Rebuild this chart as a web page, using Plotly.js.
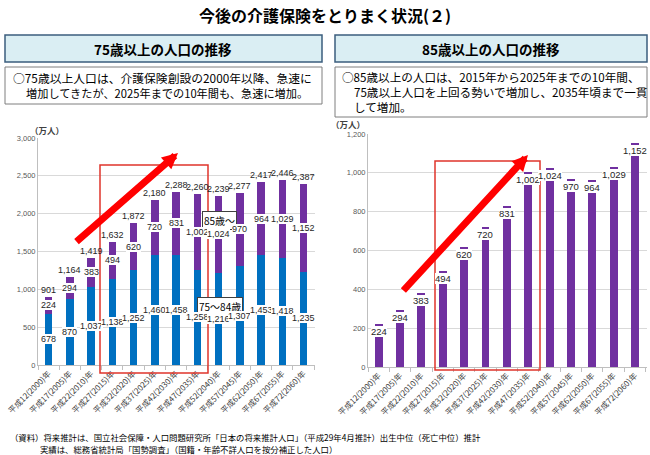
<!DOCTYPE html>
<html><head><meta charset="utf-8">
<script src="https://cdn.plot.ly/plotly-3.0.1.min.js"></script>
<style>html,body{margin:0;padding:0;background:#fff}#chart{width:650px;height:455px}</style>
</head><body><div id="chart"></div>
<script>
// ---- data ----
const years = ['平成12(2000)年','平成17(2005)年','平成22(2010)年','平成27(2015)年','平成32(2020)年','平成37(2025)年','平成42(2030)年','平成47(2035)年','平成52(2040)年','平成57(2045)年','平成62(2050)年','平成67(2055)年','平成72(2060)年'];
const age75to84 = [678, 870, 1037, 1138, 1252, 1460, 1458, 1258, 1216, 1307, 1453, 1418, 1235];
const age85plus = [224, 294, 383, 494, 620, 720, 831, 1002, 1024, 970, 964, 1029, 1152];
const total75plus = [901, 1164, 1419, 1632, 1872, 2180, 2288, 2260, 2239, 2277, 2417, 2446, 2387];
const yTicksLeft = [0, 500, 1000, 1500, 2000, 2500, 3000];
const yTicksRight = [0, 200, 400, 600, 800, 1000, 1200];

// ---- helpers ----
const W = 650, H = 455;
const px = x => x / W, py = y => 1 - y / H;
const JP = '"Noto Sans CJK JP", "Noto Sans", sans-serif';
const NUM = '"Liberation Sans", "DejaVu Sans", sans-serif';
const BLUE = '#0070C0', PURPLE = '#7030A0';
const fmt = v => v.toLocaleString('en-US');

const traces = [
  {type:'bar', x:years, y:age75to84, xaxis:'x', yaxis:'y', marker:{color:BLUE}, width:0.35, hoverinfo:'skip'},
  {type:'bar', x:years, y:age85plus, xaxis:'x', yaxis:'y', marker:{color:PURPLE}, width:0.35, hoverinfo:'skip'},
  {type:'bar', x:years, y:age85plus, xaxis:'x2', yaxis:'y2', marker:{color:PURPLE}, width:0.37, hoverinfo:'skip'}
];

const ann = [];
const txt = (text, x, y, size, opts) => ann.push(Object.assign({xref:'paper', yref:'paper', x:px(x), y:py(y), text:text, showarrow:false, xanchor:'center', yanchor:'middle', font:{family:JP, size:size, color:'#000'}}, opts||{}));

// title + headers + descriptions
txt('<b>今後の介護保険をとりまく状況(２)</b>', 325, 15, 16);
txt('<b>75歳以上の人口の推移</b>', 163, 49, 13.5);
txt('<b>85歳以上の人口の推移</b>', 491, 49, 13.5);
txt('○75歳以上人口は、介護保険創設の2000年以降、急速に', 11, 77, 11.8, {xanchor:'left'});
txt('増加してきたが、2025年までの10年間も、急速に増加。', 24, 93, 11.2, {xanchor:'left'});
txt('○85歳以上の人口は、2015年から2025年までの10年間、', 340, 77, 11.6, {xanchor:'left'});
txt('75歳以上人口を上回る勢いで増加し、2035年頃まで一貫', 352, 92, 11.6, {xanchor:'left'});
txt('して増加。', 352, 107, 11.6, {xanchor:'left'});
txt('<b>（万人）</b>', 47, 130, 8.5, {font:{family:JP, size:8.5, color:'#404040'}});
txt('<b>（万人）</b>', 348, 124, 8.5, {font:{family:JP, size:8.5, color:'#404040'}});
txt('（資料）将来推計は、国立社会保障・人口問題研究所「日本の将来推計人口」（平成29年4月推計）出生中位（死亡中位）推計', 8, 437, 8.4, {xanchor:'left'});
txt('実績は、総務省統計局「国勢調査」（国籍・年齢不詳人口を按分補正した人口）', 38, 449, 8.4, {xanchor:'left'});

// series name boxes
txt('85歳～', 219, 220, 10, {bgcolor:'#fff', bordercolor:'#404040', borderwidth:1, borderpad:1});
txt('75～84歳', 219.5, 306.5, 10, {bgcolor:'#fff', bordercolor:'#404040', borderwidth:1, borderpad:1});

// arrows
ann.push({xref:'paper', yref:'paper', x:px(178), y:py(153), ax:-103, ay:90, text:'', showarrow:true, arrowhead:2, arrowsize:0.45, arrowwidth:7, arrowcolor:'#FF0000', standoff:0});
ann.push({xref:'paper', yref:'paper', x:px(528), y:py(155), ax:-126, ay:137, text:'', showarrow:true, arrowhead:2, arrowsize:0.45, arrowwidth:7, arrowcolor:'#FF0000', standoff:0});

// data labels
const lab = (xref, yref, x, y, v, opts) => ann.push(Object.assign({xref:xref, yref:yref, x:x, y:y, text:fmt(v), showarrow:false, bgcolor:'#fff', borderpad:0, borderwidth:0, font:{family:NUM, size:9, color:'#262626'}}, opts||{}));
years.forEach((yr, i) => {
  lab('x', 'y', yr, age75to84[i] / 2, age75to84[i]);
  lab('x', 'y', yr, age75to84[i] + age85plus[i] / 2, age85plus[i]);
  lab('x', 'y', yr, total75plus[i], total75plus[i], {yanchor:'bottom', yshift:2, bgcolor:'rgba(0,0,0,0)'});
  lab('x2', 'y2', yr, age85plus[i], age85plus[i], {yanchor:'top', yshift:-2, font:{family:NUM, size:9.5, color:'#262626'}});
});

const rect = (x0, y0, x1, y1, fill, line, lw) => ({type:'rect', xref:'paper', yref:'paper', x0:px(x0), x1:px(x1), y0:py(y0), y1:py(y1), fillcolor:fill, line:{color:line, width:lw}, layer:'above'});
const shapes = [
  rect(5, 35, 322, 62, '#DAEEF3', '#3B5E7E', 1.5),
  rect(335, 35, 647, 62, '#DAEEF3', '#3B5E7E', 1.5),
  rect(5, 67, 322, 104, '#FFFFFF', '#7F7F7F', 1),
  rect(335, 67, 647, 117, '#FFFFFF', '#7F7F7F', 1),
  rect(100, 165, 208, 373, 'rgba(0,0,0,0)', '#E0342B', 1.5),
  rect(435, 161, 540, 370, 'rgba(0,0,0,0)', '#E0342B', 1.5)
];

const xax = (d, anchor) => ({domain:d, anchor:anchor, type:'category', tickangle:-45, tickfont:{family:JP, size:8, color:'#404040'}, showline:true, linecolor:'#BFBFBF', ticks:'outside', ticklen:4, tickcolor:'#BFBFBF', tickson:'boundaries', showgrid:false, fixedrange:true});
const yax = (d, anchor, range, tv) => ({domain:d, anchor:anchor, range:range, tickvals:tv, tickformat:',d', tickfont:{family:NUM, size:7.5, color:'#595959'}, showgrid:true, gridcolor:'#D9D9D9', gridwidth:1, showline:true, linecolor:'#BFBFBF', zeroline:false, fixedrange:true});

const layout = {
  width:W, height:H, margin:{l:0, r:0, t:0, b:0}, showlegend:false,
  paper_bgcolor:'#fff', plot_bgcolor:'#fff', barmode:'stack',
  xaxis: xax([px(38), px(315)], 'y'),
  yaxis: yax([py(365), py(138)], 'x', [0, 3000], yTicksLeft),
  xaxis2: xax([px(368), px(647)], 'y2'),
  yaxis2: yax([py(367), py(134)], 'x2', [0, 1200], yTicksRight),
  annotations: ann, shapes: shapes
};
Plotly.newPlot('chart', traces, layout, {displayModeBar:false, staticPlot:true});
</script></body></html>
